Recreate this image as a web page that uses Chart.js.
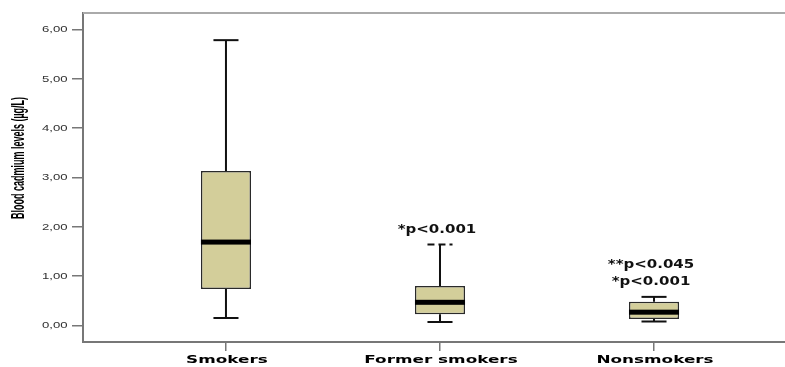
<!DOCTYPE html>
<html>
<head>
<meta charset="utf-8">
<script src="https://cdn.jsdelivr.net/npm/chart.js@4/dist/chart.umd.min.js"></script>
<style>
  html, body { margin: 0; padding: 0; background: #ffffff; }
  #wrap { width: 785px; height: 367px; }
</style>
</head>
<body>
<div id="wrap"><canvas id="c" width="785" height="367"></canvas></div>
<script>
// Blood cadmium levels by smoking status (box plot summary statistics)
const categories = ['Smokers', 'Former smokers', 'Nonsmokers'];
const positions = [1, 2, 3];
const whiskerLow = [0.15, 0.07, 0.08];
const quartile1 = [0.74, 0.23, 0.13];
const medians = [1.69, 0.47, 0.27];
const quartile3 = [3.13, 0.80, 0.48];
const whiskerHigh = [5.78, 1.64, 0.58];
const significance = [[], ['*p<0.001'], ['**p<0.045', '*p<0.001']];
const yTicks = [0, 1, 2, 3, 4, 5, 6];
const yTitle = 'Blood cadmium levels (µg/L)';

const formatTick = v => v.toFixed(2).replace('.', ',');

// draw text stretched horizontally around an anchor point
function stretchedText(ctx, text, x, y, sx, align) {
  ctx.save();
  ctx.translate(x, y);
  ctx.scale(sx, 1);
  ctx.textAlign = align;
  ctx.fillText(text, 0, 0);
  ctx.restore();
}

const boxPlot = {
  id: 'boxPlot',
  afterDatasetsDraw(chart) {
    const { ctx, scales: { y } } = chart;
    const bars = chart.getDatasetMeta(0).data;
    ctx.save();
    positions.forEach((p, i) => {
      const bar = bars[i];
      const cx = bar.x;
      const half = bar.width / 2;
      const capHalf = half / 2;
      const yHi = y.getPixelForValue(whiskerHigh[i]);
      const yLo = y.getPixelForValue(whiskerLow[i]);
      const yQ3 = y.getPixelForValue(quartile3[i]);
      const yQ1 = y.getPixelForValue(quartile1[i]);
      const yMed = y.getPixelForValue(medians[i]);

      ctx.strokeStyle = '#111111';
      ctx.lineWidth = 2;
      ctx.setLineDash([]);
      ctx.beginPath();
      ctx.moveTo(cx, yQ3); ctx.lineTo(cx, yHi);
      ctx.moveTo(cx, yQ1); ctx.lineTo(cx, yLo);
      ctx.moveTo(cx - capHalf, yLo); ctx.lineTo(cx + capHalf, yLo);
      ctx.stroke();

      // upper cap: the former-smokers cap is dashed
      ctx.beginPath();
      if (i === 1) ctx.setLineDash([7, 4]);
      ctx.moveTo(cx - capHalf, yHi); ctx.lineTo(cx + capHalf, yHi);
      ctx.stroke();
      ctx.setLineDash([]);

      // median bar
      ctx.fillStyle = '#000000';
      ctx.fillRect(cx - half, yMed - 2.5, half * 2, 5);

      // significance notes above the upper whisker
      const notes = significance[i];
      ctx.font = 'bold 12px "DejaVu Sans"';
      ctx.fillStyle = '#111111';
      ctx.textBaseline = 'alphabetic';
      notes.forEach((t, k) => {
        const base = yHi - 12 - (notes.length - 1 - k) * 17;
        stretchedText(ctx, t, cx - 3, base, 1.25, 'center');
      });
    });
    ctx.restore();
  },
  afterDraw(chart) {
    const { ctx, chartArea, scales: { x, y } } = chart;
    ctx.save();
    // light frame line along the top
    ctx.strokeStyle = '#aaaaaa';
    ctx.lineWidth = 2;
    ctx.beginPath();
    ctx.moveTo(chartArea.left, chartArea.top);
    ctx.lineTo(chartArea.right, chartArea.top);
    ctx.stroke();

    // y tick labels
    ctx.fillStyle = '#333333';
    ctx.font = '9px "Liberation Sans"';
    ctx.textBaseline = 'middle';
    y.ticks.forEach(t => {
      stretchedText(ctx, formatTick(t.value), y.right - 15.5, y.getPixelForValue(t.value) + 0.5, 1.46, 'right');
    });

    // category labels
    ctx.fillStyle = '#000000';
    ctx.font = 'bold 11px "DejaVu Sans"';
    ctx.textBaseline = 'alphabetic';
    x.ticks.forEach(t => {
      stretchedText(ctx, categories[t.value - 1], x.getPixelForValue(t.value) + 1, 363, 1.53, 'center');
    });

    // rotated axis title
    ctx.save();
    ctx.translate(19.5, 158);
    ctx.rotate(-Math.PI / 2);
    ctx.scale(1, 2.0);
    ctx.font = 'bold 9px "Liberation Sans"';
    ctx.textAlign = 'center';
    ctx.textBaseline = 'middle';
    ctx.fillStyle = '#000000';
    ctx.fillText(yTitle, 0, 0);
    ctx.restore();

    ctx.restore();
  }
};

new Chart(document.getElementById('c'), {
  type: 'bar',
  data: {
    datasets: [{
      data: positions.map((p, i) => ({ x: p, y: [quartile1[i], quartile3[i]] })),
      backgroundColor: '#d3ce9a',
      borderColor: '#2a2a2a',
      borderWidth: 1.5,
      borderSkipped: false,
      barPercentage: 0.234,
      categoryPercentage: 1
    }]
  },
  options: {
    responsive: false,
    animation: false,
    devicePixelRatio: 1,
    layout: { padding: { top: 13, left: 0, right: 0, bottom: 0 } },
    plugins: { legend: { display: false }, tooltip: { enabled: false } },
    scales: {
      x: {
        type: 'linear',
        offset: false,
        min: 0.332,
        max: 3.612,
        afterBuildTicks: s => { s.ticks = positions.map(v => ({ value: v })); },
        afterFit: s => { s.height = 25; },
        ticks: { display: false },
        grid: { display: true, offset: false, drawOnChartArea: false, drawTicks: true, tickLength: 9, color: '#777777', lineWidth: 1.5 },
        border: { display: true, color: '#777777', width: 2 }
      },
      y: {
        type: 'linear',
        min: -0.334,
        max: 6.33,
        afterBuildTicks: s => { s.ticks = yTicks.map(v => ({ value: v })); },
        afterFit: s => { s.width = 83; },
        ticks: { display: false },
        grid: { display: true, drawOnChartArea: false, drawTicks: true, tickLength: 11, color: '#777777', lineWidth: 1.5 },
        border: { display: true, color: '#777777', width: 2 }
      }
    }
  },
  plugins: [boxPlot]
});
</script>
</body>
</html>
